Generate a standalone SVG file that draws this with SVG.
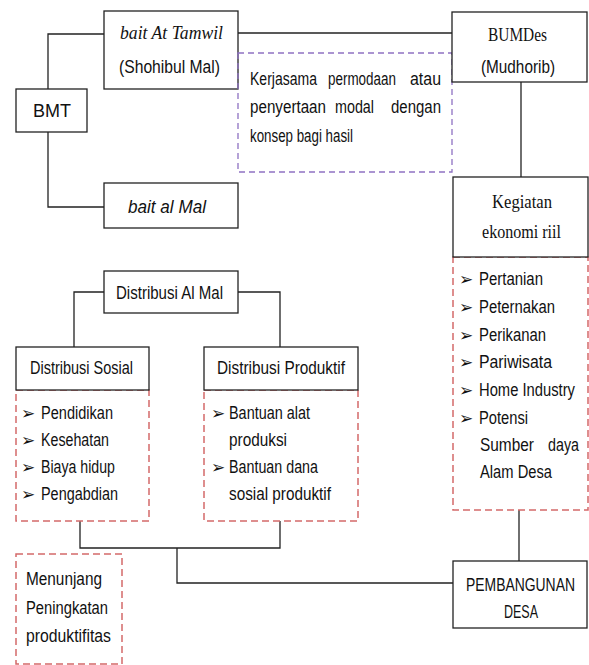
<svg xmlns="http://www.w3.org/2000/svg" width="589" height="665" viewBox="0 0 589 665">
<style>
.box{fill:#fff;stroke:#222;stroke-width:1.3}
.dr{fill:none;stroke:#d46a6a;stroke-width:1.5;stroke-dasharray:7 4}
.dp{fill:none;stroke:#8e72c2;stroke-width:1.3;stroke-dasharray:6 4}
.ln{fill:none;stroke:#222;stroke-width:1.3}
.s{font-family:"Liberation Sans",Arial,sans-serif;font-size:17.5px;fill:#111}
.r{font-family:"Liberation Serif","Times New Roman",serif;font-size:19px;fill:#111}
.i{font-style:italic}
.b{font-family:"DejaVu Sans",sans-serif;font-size:17px;fill:#111}
</style>
<rect width="589" height="665" fill="#fff"/>
<g id="connectors">
<path class="ln" d="M48 89V34H104M48 132V207H104"/>
<path class="ln" d="M238 33H452"/>
<path class="ln" d="M521 82V177"/>
<path class="ln" d="M74 347V292H104M238 292H280V347"/>
<path class="ln" d="M80 521V548H280V521M177 548V583H453"/>
<path class="ln" d="M519 510V561"/>
</g>
<g id="bmt">
<rect class="box" x="16" y="89" width="71" height="43"/>
<text class="s" x="33" y="117" textLength="38" lengthAdjust="spacingAndGlyphs">BMT</text>
</g>
<g id="bait-at-tamwil">
<rect class="box" x="104" y="11" width="134" height="78"/>
<text class="r i" x="120" y="39" textLength="103" lengthAdjust="spacingAndGlyphs">bait At Tamwil</text>
<text class="s" x="119" y="73" textLength="101" lengthAdjust="spacingAndGlyphs">(Shohibul Mal)</text>
</g>
<g id="bait-al-mal">
<rect class="box" x="104" y="183" width="134" height="45"/>
<text class="s i" x="128" y="213" textLength="78" lengthAdjust="spacingAndGlyphs">bait al Mal</text>
</g>
<g id="kerjasama">
<rect class="dp" x="238" y="53" width="214" height="119"/>
<text class="s" x="250" y="85" textLength="67" lengthAdjust="spacingAndGlyphs">Kerjasama</text>
<text class="s" x="328" y="85" textLength="68" lengthAdjust="spacingAndGlyphs">permodaan</text>
<text class="s" x="410" y="85" textLength="31" lengthAdjust="spacingAndGlyphs">atau</text>
<text class="s" x="250" y="113" textLength="76" lengthAdjust="spacingAndGlyphs">penyertaan</text>
<text class="s" x="335" y="113" textLength="39" lengthAdjust="spacingAndGlyphs">modal</text>
<text class="s" x="391" y="113" textLength="50" lengthAdjust="spacingAndGlyphs">dengan</text>
<text class="s" x="250" y="142" textLength="103" lengthAdjust="spacingAndGlyphs">konsep bagi hasil</text>
</g>
<g id="bumdes">
<rect class="box" x="452" y="12" width="135" height="70"/>
<text class="r" x="488" y="41" textLength="59" lengthAdjust="spacingAndGlyphs">BUMDes</text>
<text class="s" x="481" y="73" textLength="74" lengthAdjust="spacingAndGlyphs">(Mudhorib)</text>
</g>
<g id="kegiatan">
<rect class="dr" x="453" y="257" width="135" height="253"/>
<rect class="box" x="453" y="177" width="135" height="80"/>
<text class="r" x="492" y="208" textLength="60" lengthAdjust="spacingAndGlyphs">Kegiatan</text>
<text class="r" x="482" y="238" textLength="79" lengthAdjust="spacingAndGlyphs">ekonomi riil</text>
<text class="b" x="459" y="285">➢</text>
<text class="b" x="459" y="313">➢</text>
<text class="b" x="459" y="341">➢</text>
<text class="b" x="459" y="368">➢</text>
<text class="b" x="459" y="396">➢</text>
<text class="b" x="459" y="424">➢</text>
<text class="s" x="479" y="285" textLength="64" lengthAdjust="spacingAndGlyphs">Pertanian</text>
<text class="s" x="479" y="313" textLength="76" lengthAdjust="spacingAndGlyphs">Peternakan</text>
<text class="s" x="479" y="341" textLength="67" lengthAdjust="spacingAndGlyphs">Perikanan</text>
<text class="s" x="479" y="368" textLength="73" lengthAdjust="spacingAndGlyphs">Pariwisata</text>
<text class="s" x="479" y="396" textLength="96" lengthAdjust="spacingAndGlyphs">Home Industry</text>
<text class="s" x="479" y="424" textLength="49" lengthAdjust="spacingAndGlyphs">Potensi</text>
<text class="s" x="480" y="451" textLength="54" lengthAdjust="spacingAndGlyphs">Sumber</text>
<text class="s" x="548" y="451" textLength="31" lengthAdjust="spacingAndGlyphs">daya</text>
<text class="s" x="480" y="478" textLength="72" lengthAdjust="spacingAndGlyphs">Alam Desa</text>
</g>
<g id="distribusi-al-mal">
<rect class="box" x="104" y="271" width="134" height="42"/>
<text class="s" x="116" y="299" textLength="107" lengthAdjust="spacingAndGlyphs">Distribusi Al Mal</text>
</g>
<g id="distribusi-sosial">
<rect class="dr" x="16" y="390" width="133" height="131"/>
<rect class="box" x="16" y="347" width="133" height="43"/>
<text class="s" x="30" y="374" textLength="103" lengthAdjust="spacingAndGlyphs">Distribusi Sosial</text>
<text class="b" x="21" y="419">➢</text>
<text class="b" x="21" y="446">➢</text>
<text class="b" x="21" y="473">➢</text>
<text class="b" x="21" y="500">➢</text>
<text class="s" x="41" y="419" textLength="72" lengthAdjust="spacingAndGlyphs">Pendidikan</text>
<text class="s" x="41" y="446" textLength="68" lengthAdjust="spacingAndGlyphs">Kesehatan</text>
<text class="s" x="41" y="473" textLength="74" lengthAdjust="spacingAndGlyphs">Biaya hidup</text>
<text class="s" x="41" y="500" textLength="77" lengthAdjust="spacingAndGlyphs">Pengabdian</text>
</g>
<g id="distribusi-produktif">
<rect class="dr" x="204" y="390" width="154" height="131"/>
<rect class="box" x="204" y="347" width="154" height="43"/>
<text class="s" x="217" y="374" textLength="128" lengthAdjust="spacingAndGlyphs">Distribusi Produktif</text>
<text class="b" x="211" y="419">➢</text>
<text class="b" x="211" y="473">➢</text>
<text class="s" x="229" y="419" textLength="81" lengthAdjust="spacingAndGlyphs">Bantuan alat</text>
<text class="s" x="229" y="446" textLength="58" lengthAdjust="spacingAndGlyphs">produksi</text>
<text class="s" x="229" y="473" textLength="89" lengthAdjust="spacingAndGlyphs">Bantuan dana</text>
<text class="s" x="229" y="500" textLength="102" lengthAdjust="spacingAndGlyphs">sosial produktif</text>
</g>
<g id="menunjang">
<rect class="dr" x="16" y="554" width="106" height="110"/>
<text class="s" x="26" y="585" textLength="76" lengthAdjust="spacingAndGlyphs">Menunjang</text>
<text class="s" x="26" y="614" textLength="82" lengthAdjust="spacingAndGlyphs">Peningkatan</text>
<text class="s" x="26" y="642" textLength="85" lengthAdjust="spacingAndGlyphs">produktifitas</text>
</g>
<g id="pembangunan-desa">
<rect class="box" x="453" y="561" width="134" height="67"/>
<text class="s" x="466" y="591" textLength="109" lengthAdjust="spacingAndGlyphs">PEMBANGUNAN</text>
<text class="s" x="504" y="618" textLength="34" lengthAdjust="spacingAndGlyphs">DESA</text>
</g>
</svg>
